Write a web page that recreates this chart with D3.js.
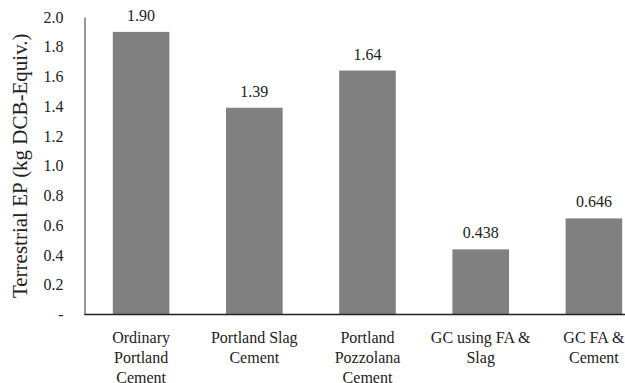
<!DOCTYPE html>
<html>
<head>
<meta charset="utf-8">
<script src="https://cdn.jsdelivr.net/npm/d3@7"></script>
<style>
  html, body { margin: 0; padding: 0; background: #fff; overflow: hidden; }
  svg text { font-family: "Liberation Serif", "Times New Roman", serif; }
</style>
</head>
<body>
<svg id="chart" width="625" height="383"></svg>
<script>
// Terrestrial eutrophication potential per binder type
const categories = [
  ["Ordinary", "Portland", "Cement"],
  ["Portland Slag", "Cement"],
  ["Portland", "Pozzolana", "Cement"],
  ["GC using FA &", "Slag"],
  ["GC FA &", "Cement"]
];
const values = [1.90, 1.39, 1.64, 0.438, 0.646];
const valueLabels = ["1.90", "1.39", "1.64", "0.438", "0.646"];
const yTicks = [0, 0.2, 0.4, 0.6, 0.8, 1.0, 1.2, 1.4, 1.6, 1.8, 2.0];
const yTitle = "Terrestrial EP (kg DCB-Equiv.)";

const FONT = "Liberation Serif, Times New Roman, serif";
const svg = d3.select("#chart");
const plot = { left: 84.5, top: 17, bottom: 314.5 };
const step = 113.2;

const x = d3.scaleBand()
  .domain(d3.range(values.length))
  .range([plot.left, plot.left + step * values.length])
  .paddingInner(0.5)
  .paddingOuter(0.25);

const y = d3.scaleLinear()
  .domain([0, 2.0])
  .range([plot.bottom, plot.top]);

// bars
svg.append("g")
  .selectAll("rect")
  .data(values)
  .join("rect")
  .attr("x", (d, i) => x(i))
  .attr("y", d => y(d))
  .attr("width", x.bandwidth())
  .attr("height", d => y(0) - y(d))
  .attr("fill", "#808080");

// value labels
svg.append("g")
  .selectAll("text")
  .data(values)
  .join("text")
  .attr("x", (d, i) => x(i) + x.bandwidth() / 2)
  .attr("y", d => y(d) - 11)
  .attr("text-anchor", "middle")
  .attr("font-family", FONT)
  .attr("font-size", 16)
  .attr("fill", "#222")
  .text((d, i) => valueLabels[i]);

// y axis
const yAxis = svg.append("g")
  .attr("transform", `translate(${plot.left},0)`)
  .call(d3.axisLeft(y)
    .tickValues(yTicks)
    .tickSize(0)
    .tickPadding(21)
    .tickFormat(d => d === 0 ? "-" : d3.format(".1f")(d)));
yAxis.attr("font-family", FONT);
yAxis.select(".domain").attr("stroke", "#555").attr("stroke-width", 1.2);
yAxis.selectAll("text")
  .attr("font-size", 16)
  .attr("fill", "#222");

// x axis baseline
svg.append("line")
  .attr("x1", plot.left)
  .attr("x2", 625)
  .attr("y1", y(0))
  .attr("y2", y(0))
  .attr("stroke", "#222")
  .attr("stroke-width", 1.5);

// category labels
const cat = svg.append("g")
  .selectAll("text")
  .data(categories)
  .join("text")
  .attr("text-anchor", "middle")
  .attr("font-family", FONT)
  .attr("font-size", 16)
  .attr("fill", "#222");
cat.each(function (lines, i) {
  const cx = x(i) + x.bandwidth() / 2;
  d3.select(this).selectAll("tspan")
    .data(lines)
    .join("tspan")
    .attr("x", cx)
    .attr("y", (d, j) => 343 + j * 20)
    .text(d => d);
});

// y axis title
svg.append("text")
  .attr("transform", `translate(27,${(plot.top + plot.bottom) / 2}) rotate(-90)`)
  .attr("text-anchor", "middle")
  .attr("font-family", FONT)
  .attr("font-size", 21)
  .attr("fill", "#222")
  .text(yTitle);
</script>
</body>
</html>
